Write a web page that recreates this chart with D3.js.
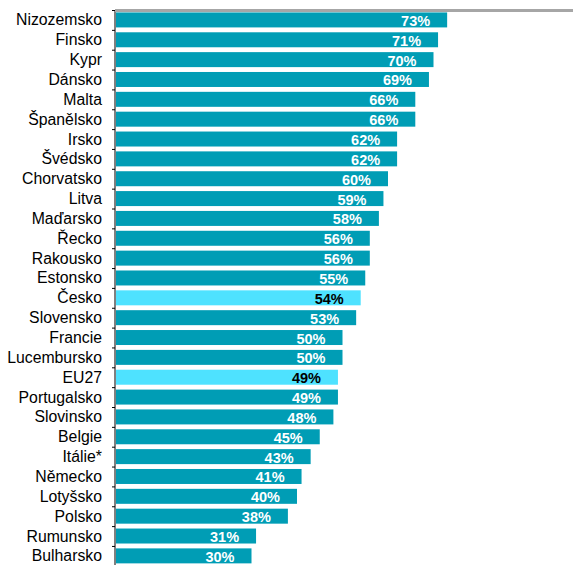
<!DOCTYPE html>
<html>
<head>
<meta charset="utf-8">
<script src="https://cdn.jsdelivr.net/npm/d3@7.9.0/dist/d3.min.js"></script>
<style>
  body { margin: 0; background: #fff; }
  svg { display: block; font-family: Arial, "Liberation Sans", sans-serif; }
</style>
</head>
<body>
<svg id="chart" width="573" height="565"></svg>
<script>
// countries, top to bottom
const countries = [
  'Nizozemsko', 'Finsko', 'Kypr', 'Dánsko', 'Malta', 'Španělsko', 'Irsko',
  'Švédsko', 'Chorvatsko', 'Litva', 'Maďarsko', 'Řecko', 'Rakousko',
  'Estonsko', 'Česko', 'Slovensko', 'Francie', 'Lucembursko', 'EU27',
  'Portugalsko', 'Slovinsko', 'Belgie', 'Itálie*', 'Německo', 'Lotyšsko',
  'Polsko', 'Rumunsko', 'Bulharsko'
];
const shares = [
  73, 71, 70, 69, 66, 66, 62, 62, 60, 59, 58, 56, 56, 55, 54, 53, 50, 50,
  49, 49, 48, 45, 43, 41, 40, 38, 31, 30
];
const highlighted = ['Česko', 'EU27'];

const data = countries.map((name, i) => ({ name, value: shares[i] }));

const svg = d3.select('#chart');
const marginLeft = 115;
const marginTop = 10;
const step = 19.85;

const x = d3.scaleLinear().domain([0, 100]).range([marginLeft, 570]);
const y = d3.scaleBand()
  .domain(countries)
  .range([marginTop, marginTop + step * countries.length])
  .paddingInner(0.245)
  .paddingOuter(0.1225);

// bars
svg.selectAll('rect.bar')
  .data(data)
  .join('rect')
  .attr('class', 'bar')
  .attr('x', x(0) + 1)
  .attr('y', (d) => y(d.name))
  .attr('width', (d) => x(d.value) - x(0) - 1)
  .attr('height', y.bandwidth())
  .attr('fill', (d) => (highlighted.includes(d.name) ? '#4ee2ff' : '#009db5'));

// value labels
svg.selectAll('text.value')
  .data(data)
  .join('text')
  .attr('class', 'value')
  .attr('x', (d) => x(d.value) - 17)
  .attr('y', (d) => y(d.name) + y.bandwidth() / 2 + 6)
  .attr('text-anchor', 'end')
  .attr('font-size', 14.5)
  .attr('font-weight', 'bold')
  .attr('fill', (d) => (highlighted.includes(d.name) ? '#000' : '#fff'))
  .text((d) => `${d.value}%`);

// category labels
svg.selectAll('text.cat')
  .data(data)
  .join('text')
  .attr('class', 'cat')
  .attr('x', 102)
  .attr('y', (d) => y(d.name) + y.bandwidth() / 2 + 5.5)
  .attr('text-anchor', 'end')
  .attr('font-size', 15.8)
  .attr('fill', '#000')
  .text((d) => d.name);

// vertical axis with ticks at band boundaries
const [y0, y1] = y.range();
svg.append('line')
  .attr('x1', marginLeft).attr('x2', marginLeft)
  .attr('y1', y0).attr('y2', y1)
  .attr('stroke', '#000');

svg.selectAll('line.tick')
  .data(d3.range(countries.length + 1))
  .join('line')
  .attr('class', 'tick')
  .attr('x1', marginLeft - 3).attr('x2', marginLeft)
  .attr('y1', (i) => y0 + i * step + 0.5)
  .attr('y2', (i) => y0 + i * step + 0.5)
  .attr('stroke', '#000');

// grey top line
svg.append('line')
  .attr('x1', marginLeft).attr('x2', 573)
  .attr('y1', 10.5).attr('y2', 10.5)
  .attr('stroke', '#a6a6a6')
  .attr('stroke-width', 3);
</script>
</body>
</html>
